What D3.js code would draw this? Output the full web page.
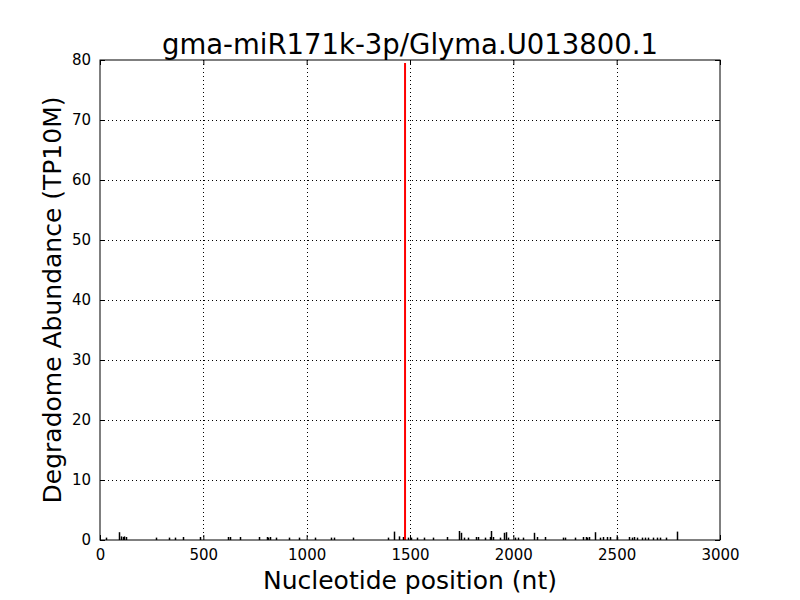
<!DOCTYPE html>
<html>
<head>
<meta charset="utf-8">
<script src="https://cdn.jsdelivr.net/npm/d3@7"></script>
<style>
  body { margin: 0; background: #fff; }
  text { font-family: "DejaVu Sans", sans-serif; }
</style>
</head>
<body>
<svg width="800" height="600"></svg>
<script>
// Degradome reads along the transcript (position in nt, abundance in TP10M)
var positions = [28, 92, 102, 110, 116, 126, 271, 334, 363, 401, 484, 619, 629, 677,
    771, 807, 815, 823, 852, 916, 964, 1042, 1118, 1132, 1225, 1395, 1422, 1447, 1465, 1492,
    1503, 1535, 1569, 1613, 1677, 1737, 1745, 1763, 1782, 1818, 1830, 1863, 1885, 1892, 1900,
    1935, 1955, 1965, 1975, 2008, 2024, 2048, 2100, 2113, 2153, 2242, 2250, 2298, 2339,
    2350, 2358, 2366, 2395, 2419, 2435, 2452, 2468, 2502, 2561, 2572, 2585, 2598, 2621,
    2637, 2653, 2676, 2694, 2710, 2738, 2790];
var abundance = [0.4, 1.3, 0.6, 0.5, 0.6, 0.5, 0.4, 0.4, 0.4, 0.5, 0.5, 0.5, 0.5, 0.5,
    0.5, 0.5, 0.4, 0.5, 0.4, 0.4, 0.4, 0.4, 0.4, 0.4, 0.4, 0.4, 1.4, 0.6, 0.5, 0.4,
    0.4, 0.4, 0.4, 0.4, 0.5, 1.5, 1.2, 0.4, 0.4, 0.5, 0.5, 0.4, 0.5, 1.5, 0.5,
    0.4, 1.2, 1.3, 0.4, 0.4, 0.4, 0.4, 1.2, 0.5, 0.5, 0.4, 0.4, 0.4, 0.5,
    0.5, 0.4, 0.5, 1.3, 0.4, 0.5, 0.5, 0.5, 0.5, 0.5, 0.4, 0.5, 0.4, 0.4,
    0.4, 0.4, 0.4, 0.4, 0.4, 0.4, 1.4];
var targetPos = [1476];
var targetAbundance = [79.5];

var xTicks = [0, 500, 1000, 1500, 2000, 2500, 3000];
var yTicks = [0, 10, 20, 30, 40, 50, 60, 70, 80];

var svg = d3.select('svg');
var padding = {t: 60, r: 80, b: 60, l: 100};
var chartWidth = 800 - padding.l - padding.r;
var chartHeight = 600 - padding.t - padding.b;

var chartG = svg.append('g')
    .attr('transform', 'translate(' + [padding.l, padding.t] + ')');

var xScale = d3.scaleLinear().domain([0, 3000]).range([0, chartWidth]);
var yScale = d3.scaleLinear().domain([0, 80]).range([chartHeight, 0]);

// grid
chartG.selectAll('.vgrid').data(xTicks.slice(1, -1)).enter().append('line')
    .attr('x1', function(d) { return Math.round(xScale(d)) + 0.5; })
    .attr('x2', function(d) { return Math.round(xScale(d)) + 0.5; })
    .attr('y1', 0).attr('y2', chartHeight)
    .attr('stroke', '#000').attr('stroke-dasharray', '1,3');
chartG.selectAll('.hgrid').data(yTicks.slice(1, -1)).enter().append('line')
    .attr('y1', function(d) { return Math.round(yScale(d)) + 0.5; })
    .attr('y2', function(d) { return Math.round(yScale(d)) + 0.5; })
    .attr('x1', 0).attr('x2', chartWidth)
    .attr('stroke', '#000').attr('stroke-dasharray', '1,3');

// bars
chartG.selectAll('.bar').data(positions).enter().append('line')
    .attr('x1', function(d) { return Math.round(xScale(d)) + 0.5; })
    .attr('x2', function(d) { return Math.round(xScale(d)) + 0.5; })
    .attr('y1', yScale(0))
    .attr('y2', function(d, i) { return yScale(abundance[i]); })
    .attr('stroke', '#000').attr('stroke-width', 1.5);

chartG.selectAll('.target').data(targetPos).enter().append('line')
    .attr('x1', function(d) { return xScale(d); })
    .attr('x2', function(d) { return xScale(d); })
    .attr('y1', yScale(0))
    .attr('y2', function(d, i) { return yScale(targetAbundance[i]); })
    .attr('stroke', '#ff0000').attr('stroke-width', 2);

// axes, classic inward ticks on all sides
var fmt = d3.format('d');
var xAx = chartG.append('g').attr('transform', 'translate(0,' + chartHeight + ')')
    .call(d3.axisBottom(xScale).tickValues(xTicks).tickSize(-5).tickPadding(9).tickFormat(fmt));
var xTop = chartG.append('g')
    .call(d3.axisTop(xScale).tickValues(xTicks).tickSize(-5).tickFormat(''));
var yAx = chartG.append('g')
    .call(d3.axisLeft(yScale).tickValues(yTicks).tickSize(-5).tickPadding(9).tickFormat(fmt));
var yRight = chartG.append('g').attr('transform', 'translate(' + chartWidth + ',0)')
    .call(d3.axisRight(yScale).tickValues(yTicks).tickSize(-5).tickFormat(''));

[xAx, xTop, yAx, yRight].forEach(function(a) {
    a.select('.domain').remove();
    a.selectAll('text').style('font-size', '15px').style('font-family', 'DejaVu Sans').attr('fill', '#000');
});

chartG.append('rect')
    .attr('width', chartWidth).attr('height', chartHeight)
    .attr('fill', 'none').attr('stroke', '#000').attr('stroke-width', 1);

svg.append('text')
    .attr('x', padding.l + chartWidth / 2).attr('y', 54)
    .attr('text-anchor', 'middle').style('font-size', '27.5px')
    .text('gma-miR171k-3p/Glyma.U013800.1');

svg.append('text')
    .attr('x', padding.l + chartWidth / 2).attr('y', 589)
    .attr('text-anchor', 'middle').style('font-size', '25px')
    .text('Nucleotide position (nt)');

svg.append('text')
    .attr('transform', 'translate(61,' + (padding.t + chartHeight / 2) + ') rotate(-90)')
    .attr('text-anchor', 'middle').style('font-size', '25px')
    .text('Degradome Abundance (TP10M)');
</script>
</body>
</html>
